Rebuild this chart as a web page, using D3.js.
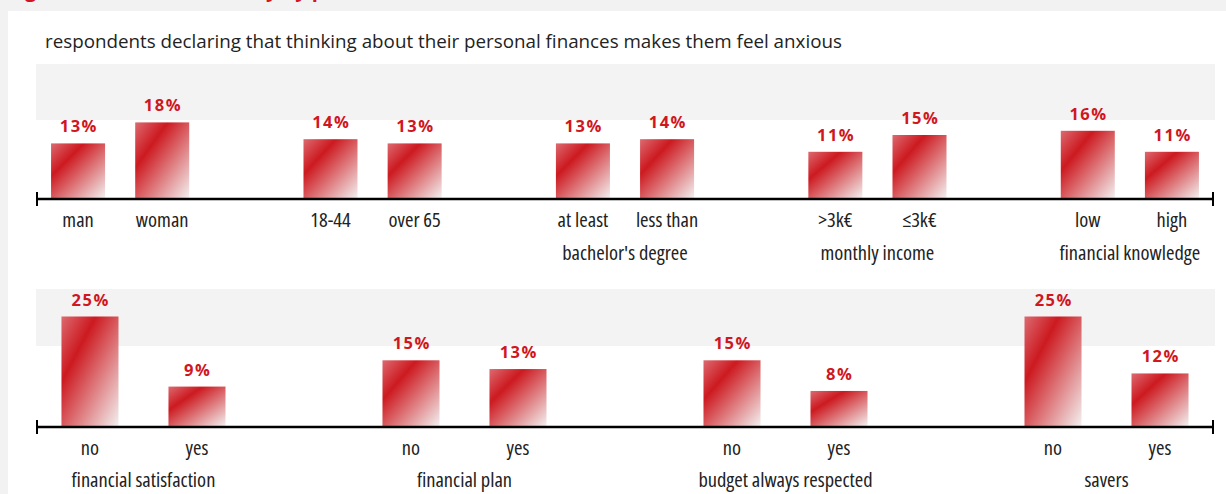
<!DOCTYPE html>
<html lang="en">
<head>
<meta charset="UTF-8">
<title>Financial anxiety</title>
<script src="https://d3js.org/d3.v7.min.js"></script>
<style>
    body { margin: 0; background: #f2f2f2; }
    svg { display: block; }
    .sub { font-family: "Open Sans", sans-serif; font-size: 18.8px; fill: #222; }
    .tick { font-family: "Open Sans", sans-serif; font-size: 20.5px; font-stretch: 75%; font-weight: 400; fill: #222; }
    .val { font-family: "Open Sans", sans-serif; font-weight: bold; font-size: 16.5px; fill: #d0161e; letter-spacing: 1.5px; }
</style>
</head>
<body>
<script>
    // top panel
    const cats1 = ["man", "woman", "18-44", "over 65", "at least", "less than", ">3k€", "≤3k€", "low", "high"];
    const vals1 = [13, 18, 14, 13, 13, 14, 11, 15, 16, 11];
    const groups1 = ["", "", "bachelor's degree", "monthly income", "financial knowledge"];

    // bottom panel
    const cats2 = ["no", "yes", "no", "yes", "no", "yes", "no", "yes"];
    const vals2 = [25, 9, 15, 13, 15, 8, 25, 12];
    const groups2 = ["financial satisfaction", "financial plan", "budget always respected", "savers"];

    const w = 1226, h = 494;

    const svg = d3.select("body").append("svg")
        .attr("width", w)
        .attr("height", h);

    const defs = svg.append("defs");
    const grad = defs.append("linearGradient")
        .attr("id", "barGrad")
        .attr("x1", 0).attr("y1", 0).attr("x2", 1).attr("y2", 1);
    grad.append("stop").attr("offset", 0).attr("stop-color", "#dc6a70");
    grad.append("stop").attr("offset", 0.3).attr("stop-color", "#cc1a20");
    grad.append("stop").attr("offset", 1).attr("stop-color", "#f3f0f0");

    // title, cut off by the top of the page
    svg.append("text")
        .attr("x", 8).attr("y", -3)
        .style("font-family", "Open Sans, sans-serif")
        .style("font-weight", "bold")
        .style("font-size", "20px")
        .style("fill", "#d0161e")
        .text("Figure 5 – Financial anxiety by personal characteristics and behaviour");

    // white panel
    svg.append("rect")
        .attr("x", 8).attr("y", 11)
        .attr("width", w - 8).attr("height", h - 11)
        .attr("fill", "#fff");

    svg.append("text")
        .attr("class", "sub")
        .attr("x", 45).attr("y", 48)
        .text("respondents declaring that thinking about their personal finances makes them feel anxious");

    function panel(cats, vals, groups, opt) {
        const n = groups.length * 3 - 1;
        const x = d3.scaleBand()
            .domain(d3.range(n))
            .range([36, 1214])
            .paddingInner(opt.pi)
            .paddingOuter(opt.po);
        const y = d3.scaleLinear()
            .domain([0, opt.max])
            .range([opt.base, opt.base - opt.max * opt.k]);

        // two bars per group, third slot left empty
        const slot = (i) => Math.floor(i / 2) * 3 + (i % 2);
        const g = svg.append("g");

        g.append("rect")
            .attr("x", 36).attr("y", opt.bandTop)
            .attr("width", 1179).attr("height", opt.bandH)
            .attr("fill", "#f3f3f3");

        g.selectAll(".bar")
            .data(vals)
            .enter()
            .append("rect")
            .attr("class", "bar")
            .attr("x", (d, i) => x(slot(i)))
            .attr("y", (d) => y(d))
            .attr("width", x.bandwidth())
            .attr("height", (d) => y(0) - y(d))
            .attr("fill", "url(#barGrad)");

        g.selectAll(".val")
            .data(vals)
            .enter()
            .append("text")
            .attr("class", "val")
            .attr("text-anchor", "middle")
            .attr("x", (d, i) => x(slot(i)) + x.bandwidth() / 2 + 0.75)
            .attr("y", (d) => y(d) - 11)
            .text((d) => d + "%");

        // axis
        const ay = opt.base + 1;
        g.append("line")
            .attr("x1", 36).attr("x2", 1214)
            .attr("y1", ay).attr("y2", ay)
            .attr("stroke", "#000").attr("stroke-width", 2.5);
        [37, 1213].forEach((px) => {
            g.append("line")
                .attr("x1", px).attr("x2", px)
                .attr("y1", ay - 7).attr("y2", ay + 7)
                .attr("stroke", "#000").attr("stroke-width", 2);
        });

        g.selectAll(".tick")
            .data(cats)
            .enter()
            .append("text")
            .attr("class", "tick")
            .attr("text-anchor", "middle")
            .attr("x", (d, i) => x(slot(i)) + x.bandwidth() / 2)
            .attr("y", opt.tickY)
            .text((d) => d);

        g.selectAll(".grp")
            .data(groups)
            .enter()
            .append("text")
            .attr("class", "tick")
            .attr("text-anchor", "middle")
            .attr("x", (d, i) => (x(i * 3) + x(i * 3 + 1) + x.bandwidth()) / 2)
            .attr("y", opt.grpY)
            .text((d) => d);
    }

    panel(cats1, vals1, groups1, {
        pi: 0.358, po: 0.179, max: 20, k: 4.2, base: 198,
        bandTop: 64, bandH: 56, tickY: 227, grpY: 260
    });

    panel(cats2, vals2, groups2, {
        pi: 0.467, po: 0.238, max: 25, k: 4.38, base: 426,
        bandTop: 289, bandH: 57, tickY: 455, grpY: 487
    });
</script>
</body>
</html>
